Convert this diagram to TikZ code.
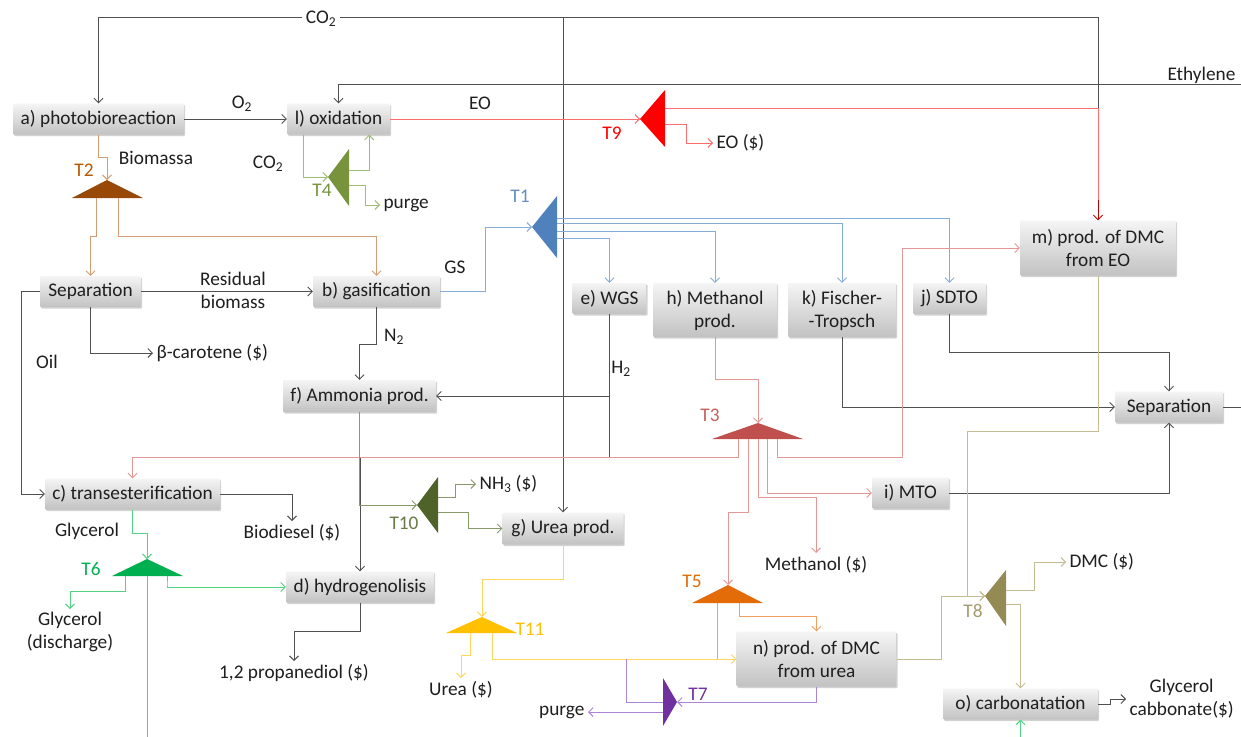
\documentclass[tikz,border=0pt]{standalone}
\usepackage{fontspec}
\setmainfont{Carlito}
\usepackage{xcolor}
\usetikzlibrary{arrows.meta}
\usetikzlibrary{shadows}

\definecolor{lgray}{HTML}{505050}
\definecolor{ctwo}{HTML}{984807}   \definecolor{ctwol}{HTML}{D49C72}
\definecolor{cfour}{HTML}{77933C}  \definecolor{cfourl}{HTML}{A0BD74}
\definecolor{cnine}{HTML}{FF0000}  \definecolor{cninel}{HTML}{FF6E6E}
\definecolor{cone}{HTML}{4F81BD}   \definecolor{conel}{HTML}{86ACDA}
\definecolor{cthree}{HTML}{C0504D} \definecolor{cthreel}{HTML}{E49896}
\definecolor{cten}{HTML}{4F6228}   \definecolor{ctenl}{HTML}{889A68}
\definecolor{csix}{HTML}{00B050}   \definecolor{csixl}{HTML}{52D282}
\definecolor{celeven}{HTML}{FFC000}\definecolor{celevenl}{HTML}{FFD75E}
\definecolor{cfive}{HTML}{E36C09}  \definecolor{cfivel}{HTML}{F2A062}
\definecolor{cseven}{HTML}{7030A0} \definecolor{csevenl}{HTML}{AE84D4}
\definecolor{ceight}{HTML}{948A54} \definecolor{ceightl}{HTML}{C4BC94}

\tikzset{
        unit/.style={rectangle, rounded corners=1pt, top color=white!96!black, bottom color=white!76!black,
                drop shadow={shadow xshift=1.2pt, shadow yshift=-1.5pt, opacity=0.35}, align=center, text=black!88},
        lbl/.style={align=center, text=black!88},
        tag/.style={inner sep=0pt},
        link/.style={->, line width=0.9pt},
}

\begin{document}
\begin{tikzpicture}[x=1pt, y=-1pt, >={Straight Barb[length=4.5pt,width=9pt]},
        every node/.style={font=\fontsize{19.3}{23}\selectfont}]
        \useasboundingbox[fill=white] (0,0) rectangle (1241,736);

        % process units
        \node[unit, minimum width=171, minimum height=31] (pbr) at (98.5,119) {a) photobioreaction};
        \node[unit, minimum width=103, minimum height=31] (oxi) at (338.5,119) {l) oxidation};
        \node[unit, minimum width=101, minimum height=31] (sepl) at (90.5,291.5) {Separation};
        \node[unit, minimum width=127, minimum height=31] (gas) at (376.5,291.5) {b) gasification};
        \node[unit, minimum width=74, minimum height=31] (wgs) at (609.5,298.5) {e) WGS};
        \node[unit, minimum width=124, minimum height=54] (meoh) at (715,310) {h) Methanol\\prod.};
        \node[unit, minimum width=108, minimum height=54] (ft) at (842,310) {k) Fischer-\\-Tropsch};
        \node[unit, minimum width=73, minimum height=31] (sdto) at (949.5,298.5) {j) SDTO};
        \node[unit, minimum width=156, minimum height=55] (dmceo) at (1098,248) {m) prod. of DMC\\from EO};
        \node[unit, minimum width=108, minimum height=31] (sepr) at (1169,407) {Separation};
        \node[unit, minimum width=153, minimum height=32] (nh3) at (359.5,396) {f) Ammonia prod.};
        \node[unit, minimum width=175, minimum height=31] (trans) at (132.5,494) {c) transesterification};
        \node[unit, minimum width=77, minimum height=31] (mto) at (910.5,493) {i) MTO};
        \node[unit, minimum width=121, minimum height=32] (urea) at (563,528.5) {g) Urea prod.};
        \node[unit, minimum width=148, minimum height=31] (hydro) at (360,587) {d) hydrogenolisis};
        \node[unit, minimum width=160, minimum height=55] (dmcu) at (816.5,659) {n) prod. of DMC\\from urea};
        \node[unit, minimum width=155, minimum height=31] (carb) at (1020.5,704) {o) carbonatation};

        % splitters
        \fill[ctwo] (72,198) -- (107,180) -- (143,198) -- cycle;
        \coordinate (t2) at (107,180);
        \fill[cfour] (328,177) -- (349,149) -- (349,206) -- cycle;
        \coordinate (t4) at (328,177);
        \fill[cnine] (640,119) -- (665,90) -- (665,147) -- cycle;
        \coordinate (t9) at (640,119);
        \fill[cone] (532,227) -- (557,196) -- (557,258) -- cycle;
        \coordinate (t1) at (532,227);
        \fill[cthree] (712,439) -- (758,423) -- (803,439) -- cycle;
        \coordinate (t3) at (758,423);
        \fill[cten] (417,505) -- (438,477) -- (438,533) -- cycle;
        \coordinate (t10) at (417,505);
        \fill[csix] (112,576) -- (147,559) -- (183,576) -- cycle;
        \coordinate (t6) at (147,559);
        \fill[celeven] (446,633) -- (482,617) -- (517,633) -- cycle;
        \coordinate (t11) at (482,617);
        \fill[cfive] (692,603) -- (728,585) -- (763,603) -- cycle;
        \coordinate (t5) at (728,585);
        \fill[cseven] (677,702) -- (663,678) -- (663,726) -- cycle;
        \coordinate (t7) at (677,702);
        \fill[ceight] (985,596) -- (1006,570) -- (1006,626) -- cycle;
        \coordinate (t8) at (985,596);

        \node[tag, text=ctwo!70!orange] (lt2) at (84,170) {T2};
        \node[tag, text=cfour] (lt4) at (322,190) {T4};
        \node[tag, text=cnine] (lt9) at (612,133) {T9};
        \node[tag, text=cone!90!white] (lt1) at (520,196) {T1};
        \node[tag, text=cthree!90!white] (lt3) at (710,415) {T3};
        \node[tag, text=cten!85!white] (lt10) at (404,523) {T10};
        \node[tag, text=csix] (lt6) at (91,569) {T6};
        \node[tag, text=celeven] (lt11) at (530,629) {T11};
        \node[tag, text=cfive] (lt5) at (692,581) {T5};
        \node[tag, text=cseven] (lt7) at (698,694) {T7};
        \node[tag, text=ceight!85!white] (lt8) at (973,611) {T8};

        % products and streams
        \coordinate (co2r) at (1098,17);
        \coordinate (co2m) at (563,17);
        \coordinate (ethin) at (1241,84);
        \coordinate (sepout) at (1241,407);
        \coordinate (gsend) at (147,760);
        \node[lbl, anchor=west] (bcar) at (153,353) {β-carotene (\$)};
        \node[lbl, anchor=west] (eop) at (713,143) {EO (\$)};
        \node[lbl, anchor=west] (purgea) at (380,205) {purge};
        \node[lbl, anchor=north] (biod) at (292,521) {Biodiesel (\$)};
        \node[lbl, anchor=north] (pdo) at (294,661) {1,2 propanediol (\$)};
        \node[lbl, anchor=north] (meohp) at (816,553) {Methanol (\$)};
        \node[lbl, anchor=north] (ureap) at (461,678) {Urea (\$)};
        \node[lbl, anchor=east] (purgeb) at (588,712) {purge};
        \node[lbl, anchor=west] (nh3p) at (476,484) {NH\textsubscript{3} (\$)};
        \node[lbl, anchor=west] (dmcp) at (1066,562) {DMC (\$)};
        \node[lbl, anchor=north] (glyd) at (70,609) {Glycerol\\(discharge)};
        \node[lbl, anchor=west] (gcarb) at (1126,699) {Glycerol\\cabbonate(\$)};

        % black streams
        \draw[link, lgray, <-] (pbr.north) |- (co2r) -- (dmceo.north);
        \draw[link, lgray] (co2m) -- (urea.north);
        \node[lbl, fill=white, inner xsep=4pt] (co2) at (321,19) {CO\textsubscript{2}};
        \draw[link, lgray] (ethin) -| (oxi.north);
        \node[lbl, anchor=south east] (eth) at (1239,87) {Ethylene};
        \draw[link, lgray] (pbr) -- (oxi);
        \node[lbl] (o2) at (242,104) {O\textsubscript{2}};
        \draw[link, lgray] (sepl) -- (gas);
        \node[lbl] (resb) at (233,290) {Residual\\biomass};
        \draw[link, lgray] (sepl.south) |- (bcar.west);
        \draw[link, lgray] (sepl.west) -- ++(-18,0) |- (trans.west);
        \node[lbl] (oil) at (47,362) {Oil};
        \draw[link, lgray] (gas.south) -- ++(0,37) -| (nh3.north);
        \node[lbl] (n2) at (394,337) {N\textsubscript{2}};
        \draw[link, lgray] (wgs.south) |- (nh3.east);
        \draw[link, lgray] (wgs.south) -- ++(0,143) -| (hydro.north);
        \node[lbl] (h2) at (621,369) {H\textsubscript{2}};
        \draw[link, lgray] (trans.east) -| (biod.north);
        \draw[link, lgray] (hydro.south) -- ++(0,29) -| (pdo.north);
        \draw[link, lgray] (ft.south) |- (sepr.west);
        \draw[link, lgray] (sdto.south) -- ++(0,38) -| (sepr.north);
        \draw[link, lgray] (mto.east) -| (sepr.south);
        \draw[line width=0.9pt, lgray] (sepr.east) -- (sepout);
        \draw[link, lgray] (carb.east) -- ++(12,0) |- (gcarb.west);

        % T2
        \draw[link, ctwol] (pbr.south) -- ++(0,23) -| (t2);
        \node[lbl] (biom) at (156,158) {Biomassa};
        \draw[link, ctwol] ([shift={(-11,18)}]t2) -- ++(0,38) -| (sepl.north);
        \draw[link, ctwol] ([shift={(11,18)}]t2) -- ++(0,38) -| (gas.north);

        % T4
        \draw[link, cfourl] ([xshift=17pt]oxi.south west) |- (t4);
        \node[lbl] (co2b) at (268,164) {CO\textsubscript{2}};
        \draw[link, cfourl] ([shift={(21,-7)}]t4) -| ([xshift=-21pt]oxi.south east);
        \draw[link, cfourl] ([shift={(21,8)}]t4) -- ++(16,0) |- (purgea.west);

        % T9
        \draw[link, cninel] (oxi.east) -- (t9);
        \node[lbl] (eo) at (480,103) {EO};
        \draw[line width=0.9pt, cninel] ([shift={(25,-11)}]t9) -| (dmceo.north);
        \draw[link, cnine!75!black] (1098,200) -- (dmceo.north);
        \draw[link, cninel] ([shift={(25,5)}]t9) -- ++(21,0) |- (eop.west);

        % T1
        \draw[link, conel] (gas.east) -- ++(45,0) |- (t1);
        \node[lbl] (gs) at (455,267) {GS};
        \draw[link, conel] ([shift={(25,-9)}]t1) -| (sdto.north);
        \draw[link, conel] ([shift={(25,-4)}]t1) -| (ft.north);
        \draw[link, conel] ([shift={(25,4)}]t1) -| (meoh.north);
        \draw[link, conel] ([shift={(25,11)}]t1) -| (wgs.north);

        % T3
        \draw[link, cthreel] (meoh.south) -- ++(0,42) -| (t3);
        \draw[link, cthreel] ([shift={(-20,16)}]t3) -- ++(0,18) -| (trans.north);
        \draw[link, cthreel] ([shift={(-10,16)}]t3) -- ++(0,73) -| (t5);
        \draw[link, cthreel] ([shift={(0,16)}]t3) -- ++(0,58) -| (meohp.north);
        \draw[link, cthreel] ([shift={(9,16)}]t3) |- (mto.west);
        \draw[link, cthreel] ([shift={(19,16)}]t3) -- ++(0,18) -- ++(125,0) |- (dmceo.west);

        % T10
        \draw[link, ctenl] (nh3.south) |- (t10);
        \draw[link, ctenl] ([shift={(21,-8)}]t10) -- ++(17,0) |- (nh3p.west);
        \draw[link, ctenl] ([shift={(21,7)}]t10) -- ++(30,0) |- (urea.west);

        % T11
        \draw[link, celevenl] (urea.south) -- ++(0,35) -| (t11);
        \draw[link, celevenl] ([shift={(-12,16)}]t11) -- ++(0,22) -| (ureap.north);
        \draw[link, celevenl] ([shift={(10,16)}]t11) |- (dmcu.west);

        % T5
        \draw[line width=0.9pt, cfivel] ([shift={(-11,18)}]t5) -- ++(0,56);
        \draw[link, cfivel] ([shift={(11,18)}]t5) -- ++(0,13) -| (dmcu.north);

        % T7
        \draw[link, csevenl] (dmcu.south) |- (t7);
        \draw[line width=0.9pt, csevenl] ([shift={(-14,0)}]t7) -- ++(-37,0) -- ++(0,-43);
        \draw[link, csevenl] ([shift={(-14,10)}]t7) -- (purgeb.east);

        % T6
        \draw[link, csixl] (trans.south) -- ++(0,24) -| (t6);
        \node[lbl] (gly) at (87,531) {Glycerol};
        \draw[link, csixl] ([shift={(-22,17)}]t6) -- ++(0,15) -| (glyd.north);
        \draw[link, csixl] ([shift={(0,17)}]t6) -- (gsend) -| (carb.south);
        \draw[link, csixl] ([shift={(20,17)}]t6) -- ++(0,10) |- (hydro.west);

        % T8
        \draw[link, ceightl] (dmceo.south) -- ++(0,156) -- ++(-131,0) |- (t8);
        \draw[link, ceightl] (dmcu.east) -- ++(45,0) |- (t8);
        \draw[link, ceightl] ([shift={(21,-6)}]t8) -- ++(28,0) |- (dmcp.west);
        \draw[link, ceightl] ([shift={(21,8)}]t8) -| (carb.north);
\end{tikzpicture}
\end{document}
